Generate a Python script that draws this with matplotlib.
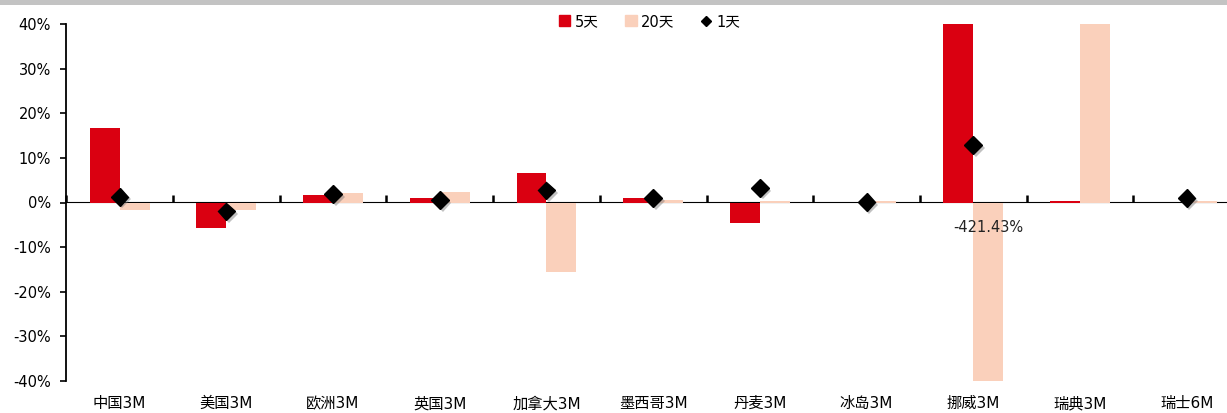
import matplotlib
matplotlib.use("Agg")
import matplotlib.pyplot as plt
import matplotlib.patheffects as pe
from matplotlib.lines import Line2D
from matplotlib.patches import Patch, Rectangle
import numpy as np

plt.rcParams['font.family'] = ['DejaVu Sans', 'Noto Sans CJK SC']

categories = ["中国3M", "美国3M", "欧洲3M", "英国3M", "加拿大3M", "墨西哥3M",
              "丹麦3M", "冰岛3M", "挪威3M", "瑞典3M", "瑞士6M"]
chg_5d = [16.7, -5.8, 1.7, 1.0, 6.7, 1.0, -4.7, -0.2, 40.0, 0.4, -0.2]
chg_20d = [-1.7, -1.7, 2.2, 2.3, -15.5, 0.5, 0.3, 0.3, -421.43, 40.0, 0.3]
chg_1d = [1.3, -2.0, 1.9, 0.5, 2.7, 1.0, 3.3, 0.1, 12.9, np.nan, 1.0]

RED = "#DA0011"
PEACH = "#FAD0BB"
FS = 10.5

W, H = 1227, 413
fig = plt.figure(figsize=(W / 100, H / 100), dpi=100)
fig.add_artist(Rectangle((0, 1 - 5 / H), 1, 5 / H, transform=fig.transFigure,
                         color="#C3C3C3", lw=0))

ax = fig.add_axes([66.3 / W, 32 / H, (1240 - 66.3) / W, (381 - 24) / H])
x = np.arange(len(categories))
bw = 0.28
ax.bar(x - bw / 2, chg_5d, bw, color=RED, zorder=2)
ax.bar(x + bw / 2, chg_20d, bw, color=PEACH, zorder=2)
ax.plot(x, chg_1d, ls="none", marker="D", ms=9, color="black", zorder=4,
        path_effects=[pe.SimplePatchShadow(offset=(2, -2), shadow_rgbFace="#777777", alpha=0.45),
                      pe.Normal()])

# out-of-range label for Norway 20d
i = categories.index("挪威3M")
ax.text(x[i] + bw / 2, -5.6, f"{chg_20d[i]:.2f}%", ha="center", va="center",
        fontsize=FS, color="#222222", zorder=5)

ax.set_xlim(-0.5, len(categories) - 0.5)
ax.set_ylim(-40, 40)
ax.set_yticks(np.arange(-40, 41, 10))
ax.set_yticklabels([f"{v}%" for v in range(-40, 41, 10)])
ax.tick_params(axis="y", length=4, width=1.2, pad=7, labelsize=FS, colors="black")
ax.set_xticks(x)
ax.set_xticklabels(categories)
ax.tick_params(axis="x", length=0, pad=11, labelsize=11)
for s in ["top", "right", "bottom"]:
    ax.spines[s].set_visible(False)
ax.spines["left"].set_linewidth(1.3)

# zero axis line with boundary ticks
sec = ax.secondary_xaxis(0.5)
sec.set_xticks(np.arange(-0.5, len(categories), 1.0))
sec.set_xticklabels([])
sec.tick_params(length=5, width=1.8, direction="out")
sec.spines["bottom"].set_linewidth(2.0)
sec.spines["bottom"].set_color("#222222")

handles = [Patch(color=RED, label="5天"), Patch(color=PEACH, label="20天"),
           Line2D([], [], ls="none", marker="D", ms=5, color="black", label="1天")]
ax.legend(handles=handles, loc="upper center", bbox_to_anchor=(0.497, 1.065), ncol=3,
          frameon=False, fontsize=FS, handlelength=0.8, handleheight=0.8,
          handletextpad=0.3, columnspacing=1.8)

fig.savefig("out.png", dpi=100)
